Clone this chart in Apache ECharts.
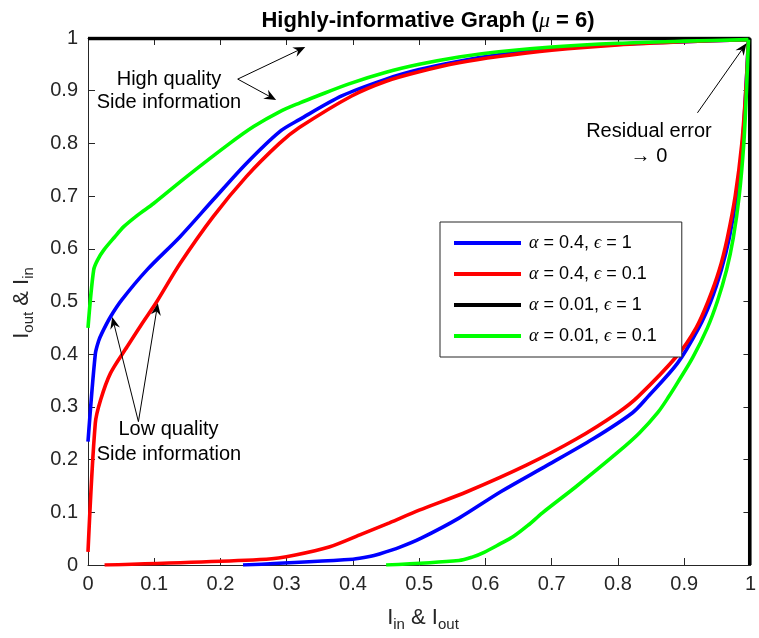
<!DOCTYPE html>
<html><head><meta charset="utf-8">
<script src="https://cdn.jsdelivr.net/npm/echarts@6/dist/echarts.min.js"></script>
<style>html,body{margin:0;padding:0;background:#fff}#c{width:759px;height:638px}</style>
</head><body><div id="c"></div>
<script>
// ---------- data ----------
const xTickLabels = ['0','0.1','0.2','0.3','0.4','0.5','0.6','0.7','0.8','0.9','1'];
const yTickLabels = ['0','0.1','0.2','0.3','0.4','0.5','0.6','0.7','0.8','0.9','1'];
const seriesNames = ['α = 0.4, ϵ = 1','α = 0.4, ϵ = 0.1','α = 0.01, ϵ = 1','α = 0.01, ϵ = 0.1'];

const blueUpper = [[0,0.234],[0.011,0.40],[0.016,0.425],[0.021,0.44],[0.034,0.471],[0.051,0.503],[0.089,0.56],[0.139,0.623],[0.189,0.693],[0.239,0.762],[0.289,0.822],[0.319,0.845],[0.383,0.89],[0.45,0.922],[0.5,0.94],[0.56,0.956],[0.62,0.968],[0.7,0.979],[0.8,0.988],[0.9,0.993],[0.997,0.997]];
const blueLower = [[0.234,0],[0.40,0.011],[0.425,0.016],[0.44,0.021],[0.471,0.034],[0.503,0.051],[0.56,0.089],[0.623,0.139],[0.693,0.189],[0.762,0.239],[0.822,0.289],[0.845,0.319],[0.89,0.383],[0.922,0.45],[0.94,0.5],[0.956,0.56],[0.968,0.62],[0.979,0.7],[0.988,0.8],[0.993,0.9],[0.997,0.997]];

const redUpper = [[0,0.025],[0.011,0.269],[0.019,0.313],[0.034,0.364],[0.059,0.414],[0.08,0.455],[0.104,0.50],[0.139,0.572],[0.189,0.661],[0.239,0.737],[0.289,0.80],[0.319,0.83],[0.398,0.89],[0.45,0.918],[0.5,0.936],[0.56,0.953],[0.62,0.965],[0.7,0.977],[0.8,0.987],[0.9,0.993],[0.997,0.997]];
const redLower = [[0.025,0],[0.269,0.011],[0.313,0.019],[0.364,0.034],[0.414,0.059],[0.455,0.08],[0.50,0.104],[0.572,0.139],[0.661,0.189],[0.737,0.239],[0.80,0.289],[0.83,0.319],[0.89,0.398],[0.918,0.45],[0.936,0.5],[0.953,0.56],[0.965,0.62],[0.977,0.7],[0.987,0.8],[0.993,0.9],[0.997,0.997]];

const blackUpper = [[0,0.999],[0.999,0.999]];
const blackLower = [[0.999,0],[0.999,0.999]];

const greenUpper = [[0,0.45],[0.0086,0.56],[0.015,0.58],[0.024,0.598],[0.04,0.622],[0.054,0.642],[0.075,0.664],[0.099,0.686],[0.149,0.737],[0.214,0.80],[0.25,0.832],[0.289,0.86],[0.32,0.877],[0.346,0.89],[0.394,0.913],[0.45,0.935],[0.5,0.95],[0.56,0.964],[0.62,0.974],[0.7,0.983],[0.8,0.99],[0.9,0.994],[0.997,0.997]];
const greenLower = [[0.45,0],[0.56,0.0086],[0.58,0.015],[0.598,0.024],[0.622,0.04],[0.642,0.054],[0.664,0.075],[0.686,0.099],[0.737,0.149],[0.80,0.214],[0.832,0.25],[0.86,0.289],[0.877,0.32],[0.89,0.346],[0.913,0.394],[0.935,0.45],[0.95,0.5],[0.964,0.56],[0.974,0.62],[0.983,0.7],[0.99,0.8],[0.994,0.9],[0.997,0.997]];

const annotationTexts = [
  ['High quality', 'Side information'],
  ['Residual error', '→ 0'],
  ['Low quality', 'Side information']
];

// ---------- chart ----------
const SANS = '"Liberation Sans", Arial, Helvetica, sans-serif';
const SERIF = '"Liberation Serif", "DejaVu Serif", serif';
const AX = '#262626';
const colors = ['#0000ff', '#ff0000', '#000000', '#00ff00'];
const curves = [[blueUpper, blueLower],[redUpper, redLower],[blackUpper, blackLower],[greenUpper, greenLower]];

const chart = echarts.init(document.getElementById('c'), null, {renderer: 'canvas'});

function axisCommon(showLabel, labels) {
  return {
    type: 'value', min: 0, max: 1, interval: 0.1,
    axisLine: {show: true, onZero: false, lineStyle: {color: AX, width: 1}},
    axisTick: {show: true, inside: true, length: 7, lineStyle: {color: AX, width: 1}},
    splitLine: {show: false},
    axisLabel: showLabel ? {
      show: true, fontSize: 20, color: AX, fontFamily: SANS,
      formatter: v => labels[Math.round(v * 10)]
    } : {show: false}
  };
}

const series = [];
curves.forEach((pair, i) => {
  pair.forEach(d => {
    series.push({
      name: seriesNames[i], type: 'line', data: d,
      xAxisIndex: 0, yAxisIndex: 0,
      showSymbol: false, symbol: 'none', smooth: i === 2 ? false : 0.3,
      lineStyle: {color: colors[i], width: 3.6},
      itemStyle: {color: colors[i]},
      z: 2 + i, silent: true
    });
  });
});

const xb = axisCommon(true, xTickLabels); xb.position = 'bottom'; xb.axisLabel.margin = 9;
const xt = axisCommon(false); xt.position = 'top';
const yl = axisCommon(true, yTickLabels); yl.position = 'left'; yl.axisLabel.margin = 10;
const yr = axisCommon(false); yr.position = 'right';

chart.setOption({
  animation: false,
  backgroundColor: '#fff',
  grid: {left: 88, right: 5, top: 38, bottom: 73, containLabel: false},
  xAxis: [xb, xt],
  yAxis: [yl, yr],
  legend: {
    data: seriesNames, orient: 'vertical', left: 440, top: 222,
    padding: [11, 25, 11, 14], itemGap: 11, itemWidth: 67, itemHeight: 4,
    icon: 'rect', selectedMode: false,
    borderColor: AX, borderWidth: 1, backgroundColor: '#fff',
    textStyle: {
      fontSize: 18, color: '#000', fontFamily: SANS, lineHeight: 20, padding: [0, 0, 0, 3],
      rich: {g: {fontSize: 18, fontFamily: SERIF, fontStyle: 'italic', color: '#000', lineHeight: 20}}
    },
    formatter: n => n.replace('α', '{g|α}').replace('ϵ', '{g|ϵ}')
  },
  series: series
});

// ---------- annotations (positioned in data coordinates) ----------
const P = p => chart.convertToPixel({gridIndex: 0}, p);
const arrowDefs = [
  [[0.226, 0.922], [0.328, 0.983]],
  [[0.226, 0.922], [0.284, 0.8824]],
  [[0.92, 0.858], [0.994, 0.99]],
  [[0.0761, 0.272], [0.0366, 0.4706]],
  [[0.0761, 0.272], [0.1054, 0.4966]]
];
const textDefs = [
  [[0.1222, 0.9222], [0.1222, 0.8774]],
  [[0.8468, 0.8235], [0.8468, 0.776]],
  [[0.1215, 0.2562], [0.1222, 0.2106]]
];
const graphics = [];
arrowDefs.forEach(([a, b]) => {
  const A = P(a), B = P(b);
  const dx = B[0] - A[0], dy = B[1] - A[1], L = Math.hypot(dx, dy);
  const ux = dx / L, uy = dy / L, nx = -uy, ny = ux;
  const HL = 12, HW = 5, NOTCH = 8;
  graphics.push({type: 'line', silent: true, z: 50,
    shape: {x1: A[0], y1: A[1], x2: B[0] - ux * NOTCH, y2: B[1] - uy * NOTCH},
    style: {stroke: '#000', lineWidth: 1}});
  graphics.push({type: 'polygon', silent: true, z: 50,
    shape: {points: [
      [B[0], B[1]],
      [B[0] - ux * HL + nx * HW, B[1] - uy * HL + ny * HW],
      [B[0] - ux * NOTCH, B[1] - uy * NOTCH],
      [B[0] - ux * HL - nx * HW, B[1] - uy * HL - ny * HW]
    ]},
    style: {fill: '#000'}});
});
textDefs.forEach((pos, i) => {
  pos.forEach((p, j) => {
    const q = P(p);
    graphics.push({type: 'text', silent: true, z: 50, x: q[0], y: q[1],
      style: {text: annotationTexts[i][j], fontSize: 20, fontFamily: SANS, fill: '#000',
        align: 'center', verticalAlign: 'middle'}});
  });
});
// title
graphics.push({type: 'text', silent: true, z: 50, x: 428, y: 21,
  style: {text: '{t|Highly-informative Graph (}{m|μ}{t| = 6)}', align: 'center', verticalAlign: 'middle',
    rich: {t: {fontSize: 22, fontWeight: 'bold', fontFamily: SANS, fill: '#000'},
           m: {fontSize: 22, fontStyle: 'italic', fontFamily: SERIF, fill: '#000'}}}});
// axis labels
const axisRich = {
  n: {fontSize: 22, fontFamily: SANS, fill: AX, lineHeight: 28, verticalAlign: 'middle'},
  s: {fontSize: 15, fontFamily: SANS, fill: AX, lineHeight: 15, verticalAlign: 'bottom'}
};
graphics.push({type: 'text', silent: true, z: 50, x: 423, y: 618,
  style: {text: '{n|I}{s|in}{n| & I}{s|out}', align: 'center', verticalAlign: 'middle', rich: axisRich}});
graphics.push({type: 'text', silent: true, z: 50, x: 22, y: 303, rotation: Math.PI / 2,
  style: {text: '{n|I}{s|out}{n| & I}{s|in}', align: 'center', verticalAlign: 'middle', rich: axisRich}});

chart.setOption({graphic: graphics});
</script>
</body></html>
